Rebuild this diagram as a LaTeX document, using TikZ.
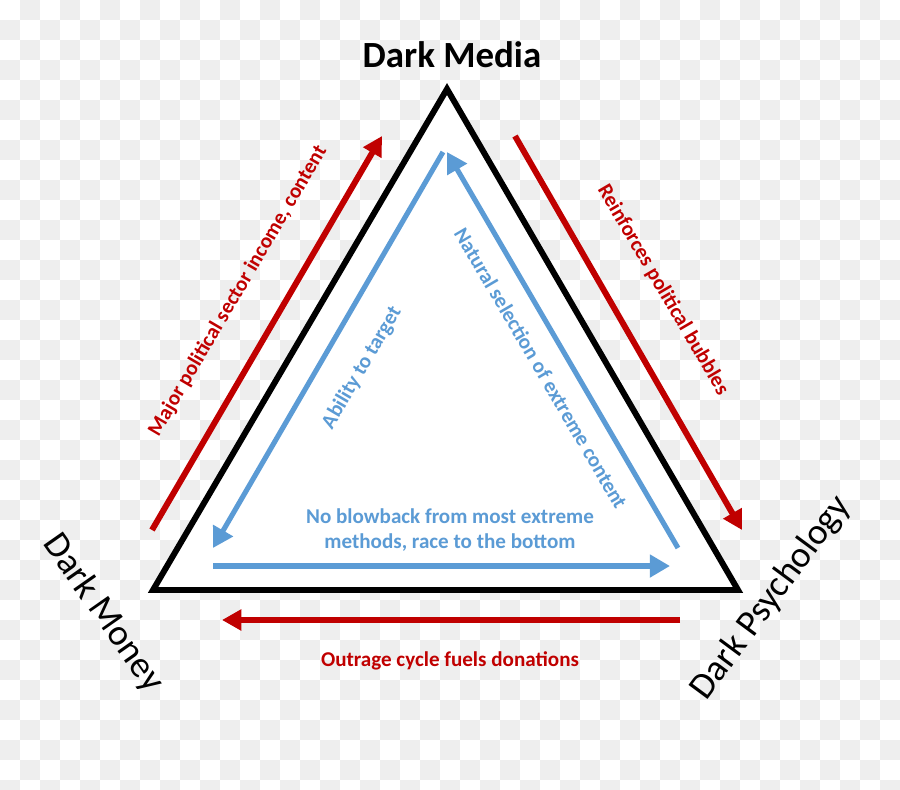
\documentclass[tikz,border=0pt]{standalone}
\usepackage{fontspec}
\setmainfont{Carlito}
\usetikzlibrary
  {
    arrows.meta,              % sized arrow heads
    positioning,              % place nodes relative to other nodes
  }

\definecolor{darkred}{HTML}{C00000}
\definecolor{paleblue}{HTML}{5B9BD5}
\definecolor{checker}{HTML}{EEEEEE}

\begin{document}
\begin{tikzpicture}
    [
      x=0.02cm, y=-0.02cm,
      redarrow/.style=
        {
          draw=darkred,
          line width=3.4pt,
          -{Triangle[length=11pt,width=11.5pt]},
        },
      bluearrow/.style=
        {
          draw=paleblue,
          line width=2.9pt,
          -{Triangle[length=11.5pt,width=12.5pt]},
        },
      redlabel/.style=
        {
          text=darkred,
          font=\fontsize{12}{14.5}\selectfont\bfseries,
        },
      bluelabel/.style=
        {
          text=paleblue,
          align=center,
          font=\fontsize{12}{14.2}\selectfont\bfseries,
        },
      corner/.style=
        {
          inner sep=0pt,
          font=\fontsize{21}{25}\selectfont,
        }
    ]
    \useasboundingbox (0,0) rectangle (900,789);
    \clip (0,0) rectangle (900,789);

    % checkered backdrop
    \foreach \i in {0,...,44}
      \foreach \j in {0,...,39}
        {
          \pgfmathtruncatemacro\parity{mod(\i+\j,2)}
          \ifnum\parity=1
            \fill [checker] (20*\i,20*\j) rectangle ++(20,20);
          \fi
        }

    % the triangle
    \coordinate (apex) at (447,89);
    \coordinate (baseL) at (153,590);
    \coordinate (baseR) at (738,590);
    \draw [line width=3.4pt, fill=white, miter limit=10]
      (apex) -- (baseL) -- (baseR) -- cycle;

    % corner labels
    \node (media) [corner] at (452,55) {\bfseries Dark Media};
    \node (money) [corner, rotate=-55] at (103,613) {Dark Money};
    \node (psych) [corner, rotate=53.5] at (771,598) {Dark Psychology};

    % outer red arrows
    \coordinate (moneyout) at (152,530);
    \coordinate (mediain) at (382,136);
    \coordinate (mediaout) at (515,136);
    \coordinate (psychin) at (742,530);
    \coordinate (psychout) at (680,620);
    \coordinate (moneyin) at (222,620);
    \draw [redarrow] (moneyout) -- (mediain);
    \draw [redarrow] (mediaout) -- (psychin);
    \draw [redarrow] (psychout) -- (moneyin);

    % inner blue arrows
    \coordinate (tipL) at (443,152);
    \coordinate (tipR) at (447,152);
    \coordinate (lowL) at (213,548);
    \coordinate (lowR) at (678,548);
    \coordinate (barL) at (213,566);
    \coordinate (barR) at (670,566);
    \draw [bluearrow] (tipL) -- (lowL);
    \draw [bluearrow] (lowR) -- (tipR);
    \draw [bluearrow] (barL) -- (barR);

    % texts along the arrows
    \node (income) [redlabel, rotate=59.6] at (238,291)
      {Major political sector income, content};
    \node (bubbles) [redlabel, rotate=-59.6] at (663,290)
      {Reinforces political bubbles};
    \node (outrage) [redlabel] at (450,661)
      {Outrage cycle fuels donations};
    \node (target) [bluelabel, rotate=59.6] at (362,368)
      {Ability to target};
    \node (selection) [bluelabel, rotate=-59.6] at (541,368)
      {Natural selection of extreme content};
    \node (blowback) [bluelabel] at (450,530)
      {No blowback from most extreme\\methods, race to the bottom};
  \end{tikzpicture}
\end{document}
